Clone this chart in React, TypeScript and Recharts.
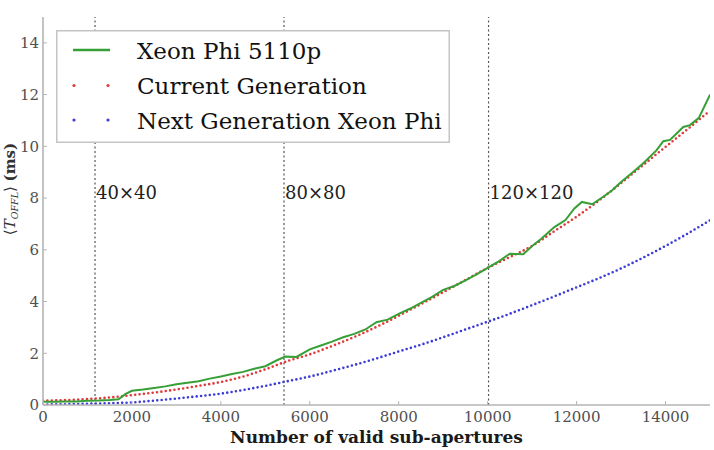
import React from 'react';
import {
  LineChart,
  Line,
  XAxis,
  YAxis,
  ReferenceLine,
  ReferenceDot,
  Legend,
} from 'recharts';

// Measured offload time of the Xeon Phi 5110p (ms) vs. number of valid sub-apertures
const xeonPhiX = [
  0, 250, 500, 750, 1000, 1250, 1500, 1700, 1850, 2000, 2250, 2500, 2750, 3000, 3250, 3500,
  3750, 4000, 4250, 4500, 4750, 5000, 5250, 5450, 5700, 6000, 6250, 6500, 6750, 7000, 7250,
  7500, 7750, 8000, 8250, 8500, 8750, 9000, 9250, 9500, 9750, 10000, 10250, 10500, 10800,
  11000, 11200, 11500, 11750, 11950, 12120, 12350, 12600, 12800, 13000, 13250, 13500, 13800,
  13950, 14100, 14400, 14550, 14750, 15000,
];
const xeonPhiMs = [
  0.13, 0.13, 0.14, 0.14, 0.16, 0.17, 0.19, 0.22, 0.42, 0.55, 0.6, 0.66, 0.72, 0.8, 0.86, 0.92,
  1.02, 1.1, 1.2, 1.28, 1.4, 1.5, 1.72, 1.87, 1.86, 2.15, 2.3, 2.45, 2.62, 2.75, 2.92,
  3.2, 3.3, 3.52, 3.72, 3.95, 4.18, 4.45, 4.6, 4.82, 5.05, 5.3, 5.55, 5.85, 5.83,
  6.15, 6.42, 6.88, 7.15, 7.6, 7.85, 7.76, 8.05, 8.3, 8.62, 8.98, 9.35, 9.85,
  10.2, 10.25, 10.75, 10.82, 11.1, 12.0,
];

// Model predictions sampled every 500 sub-apertures
const modelX = [
  0, 500, 1000, 1500, 2000, 2500, 3000, 3500, 4000, 4500, 5000, 5500, 6000, 6500, 7000, 7500,
  8000, 8500, 9000, 9500, 10000, 10500, 11000, 11500, 12000, 12500, 13000, 13500, 14000, 14500,
  15000,
];
const currentGenMs = [
  0.17, 0.19, 0.23, 0.29, 0.38, 0.48, 0.6, 0.74, 0.89, 1.1, 1.38, 1.7, 1.96, 2.28, 2.63, 3.02,
  3.45, 3.9, 4.36, 4.83, 5.3, 5.72, 6.15, 6.72, 7.28, 7.9, 8.58, 9.28, 9.98, 10.67, 11.38,
];
const nextGenMs = [
  0.02, 0.03, 0.05, 0.07, 0.1, 0.17, 0.25, 0.34, 0.44, 0.58, 0.74, 0.92, 1.1, 1.32, 1.55, 1.8,
  2.07, 2.33, 2.62, 2.92, 3.22, 3.53, 3.86, 4.2, 4.55, 4.9, 5.28, 5.7, 6.15, 6.63, 7.14,
];

// Sub-aperture counts of the reference telescope meshes
const meshLabels = ['40×40', '80×80', '120×120'];
const meshSubaps = [1170, 5420, 10020];
const meshLabelLevel = 8.2;

const xTicks = [0, 2000, 4000, 6000, 8000, 10000, 12000, 14000];
const yTicks = [0, 2, 4, 6, 8, 10, 12, 14];

const SERIF = '"DejaVu Serif", serif';
const GREEN = '#36a036';
const RED = '#e03a3a';
const BLUE = '#3c3cd6';
const SPINE = '#b4b4b4';
const TICK_TEXT = '#505050';

const toPoints = (xs: number[], ys: number[]) => xs.map((x, i) => ({ x, y: ys[i] }));

const xeonPhiData = toPoints(xeonPhiX, xeonPhiMs);
const currentGenData = toPoints(modelX, currentGenMs);
const nextGenData = toPoints(modelX, nextGenMs);

const legendItems = [
  { name: 'Xeon Phi 5110p', color: GREEN, kind: 'line' },
  { name: 'Current Generation', color: RED, kind: 'points' },
  { name: 'Next Generation Xeon Phi', color: BLUE, kind: 'points' },
];

const TICK_LEN = 4;
const TICK_GAP = 4;

function BottomTick(props: any) {
  const { x, y, payload } = props;
  const axisY = y - TICK_GAP;
  return (
    <g>
      <line x1={x} x2={x} y1={axisY} y2={axisY - TICK_LEN} stroke={SPINE} strokeWidth={1} />
      <text x={x} y={axisY + 17} textAnchor="middle" fontFamily={SERIF} fontSize={15} fill={TICK_TEXT}>
        {payload.value}
      </text>
    </g>
  );
}

function LeftTick(props: any) {
  const { x, y, payload } = props;
  const axisX = x + TICK_GAP;
  return (
    <g>
      <line x1={axisX} x2={axisX + TICK_LEN} y1={y} y2={y} stroke={SPINE} strokeWidth={1} />
      <text x={x} y={y} dy="0.36em" textAnchor="end" fontFamily={SERIF} fontSize={15} fill={TICK_TEXT}>
        {payload.value}
      </text>
    </g>
  );
}

function TopTick(props: any) {
  const { x, y } = props;
  return <line x1={x} x2={x} y1={y} y2={y + TICK_LEN} stroke={SPINE} strokeWidth={1} />;
}

function RightTick(props: any) {
  const { x, y } = props;
  return <line x1={x} x2={x - TICK_LEN} y1={y} y2={y} stroke={SPINE} strokeWidth={1} />;
}

function YTitle(props: any) {
  const vb = props.viewBox || {};
  const cx = 15;
  const cy = (vb.y ?? 0) + (vb.height ?? 0) / 2 - 22;
  return (
    <text
      transform={`translate(${cx},${cy}) rotate(-90)`}
      textAnchor="middle"
      fontFamily={SERIF}
      fontSize={15}
      fill="#333"
    >
      <tspan>⟨</tspan>
      <tspan fontStyle="italic">T</tspan>
      <tspan fontStyle="italic" fontSize={9.5} dy={3}>OFFL</tspan>
      <tspan dy={-3}>⟩ </tspan>
      <tspan fontWeight="bold">(ms)</tspan>
    </text>
  );
}

function LegendBox() {
  const rowY = [20, 55.5, 90];
  return (
    <svg width={394} height={113} style={{ display: 'block' }}>
      <rect x={0.75} y={0.75} width={392.5} height={111.5} fill="#ffffff" stroke="#c4c4c4" strokeWidth={1.5} />
      {legendItems.map((item, i) => (
        <g key={item.name}>
          {item.kind === 'line' ? (
            <line x1={17} x2={54} y1={rowY[i]} y2={rowY[i]} stroke={item.color} strokeWidth={2.4} />
          ) : (
            <g>
              <circle cx={18} cy={rowY[i]} r={1.6} fill={item.color} />
              <circle cx={52} cy={rowY[i]} r={1.6} fill={item.color} />
            </g>
          )}
          <text x={81} y={rowY[i] + 8.5} fontFamily={SERIF} fontSize={23} fill="#111">
            {item.name}
          </text>
        </g>
      ))}
    </svg>
  );
}

export default function App() {
  return (
    <div style={{ position: 'absolute', left: 0, top: 0, background: '#fff' }}>
      <LineChart width={714} height={450} margin={{ top: 17, right: 4, bottom: 0, left: 0 }}>
        <XAxis
          xAxisId={0}
          type="number"
          dataKey="x"
          domain={[0, 15000]}
          ticks={xTicks}
          allowDataOverflow
          height={45}
          tickSize={0}
          tickMargin={TICK_GAP}
          tickLine={false}
          axisLine={{ stroke: SPINE, strokeWidth: 1.6 }}
          tick={<BottomTick />}
          interval={0}
          label={{
            value: 'Number of valid sub-apertures',
            position: 'insideBottom',
            offset: 7,
            fontFamily: SERIF,
            fontSize: 17,
            fontWeight: 'bold',
            fill: '#1a1a1a',
          }}
        />
        <XAxis
          xAxisId="top"
          orientation="top"
          type="number"
          dataKey="x"
          domain={[0, 15000]}
          ticks={xTicks}
          allowDataOverflow
          height={0}
          tickSize={0}
          tickMargin={0}
          tickLine={false}
          axisLine={{ stroke: SPINE, strokeWidth: 1.6 }}
          tick={<TopTick />}
          interval={0}
        />
        <YAxis
          yAxisId={0}
          type="number"
          domain={[0, 15]}
          ticks={yTicks}
          allowDataOverflow
          width={43}
          tickSize={0}
          tickMargin={TICK_GAP}
          tickLine={false}
          axisLine={{ stroke: SPINE, strokeWidth: 1.6 }}
          tick={<LeftTick />}
          interval={0}
          label={<YTitle />}
        />
        <YAxis
          yAxisId="right"
          orientation="right"
          type="number"
          domain={[0, 15]}
          ticks={yTicks}
          allowDataOverflow
          width={0}
          tickSize={0}
          tickMargin={0}
          tickLine={false}
          axisLine={{ stroke: SPINE, strokeWidth: 1.6 }}
          tick={<RightTick />}
          interval={0}
        />

        {meshSubaps.map((n) => (
          <ReferenceLine
            key={`mesh-${n}`}
            x={n}
            stroke="#555"
            strokeWidth={1.2}
            strokeDasharray="2 2.5"
          />
        ))}
        {meshSubaps.map((n, i) => (
          <ReferenceDot
            key={`mesh-label-${n}`}
            x={n}
            y={meshLabelLevel}
            r={0}
            fill="none"
            stroke="none"
            label={{
              value: meshLabels[i],
              position: 'right',
              offset: 1,
              fontFamily: SERIF,
              fontSize: 18,
              fill: '#222',
            }}
          />
        ))}

        <Line
          data={nextGenData}
          dataKey="y"
          name="Next Generation Xeon Phi"
          type="monotone"
          stroke={BLUE}
          strokeWidth={2.6}
          strokeDasharray="0 4.4"
          strokeLinecap="round"
          dot={false}
          activeDot={false}
          isAnimationActive={false}
        />
        <Line
          data={currentGenData}
          dataKey="y"
          name="Current Generation"
          type="monotone"
          stroke={RED}
          strokeWidth={2.6}
          strokeDasharray="0 4.4"
          strokeLinecap="round"
          dot={false}
          activeDot={false}
          isAnimationActive={false}
        />
        <Line
          data={xeonPhiData}
          dataKey="y"
          name="Xeon Phi 5110p"
          type="linear"
          stroke={GREEN}
          strokeWidth={2}
          dot={false}
          activeDot={false}
          isAnimationActive={false}
        />

        <Legend
          layout="horizontal"
          verticalAlign="middle"
          align="center"
          wrapperStyle={{ left: 56, top: 30, width: 394, height: 113, margin: 0, padding: 0 }}
          content={() => <LegendBox />}
        />
      </LineChart>
    </div>
  );
}
